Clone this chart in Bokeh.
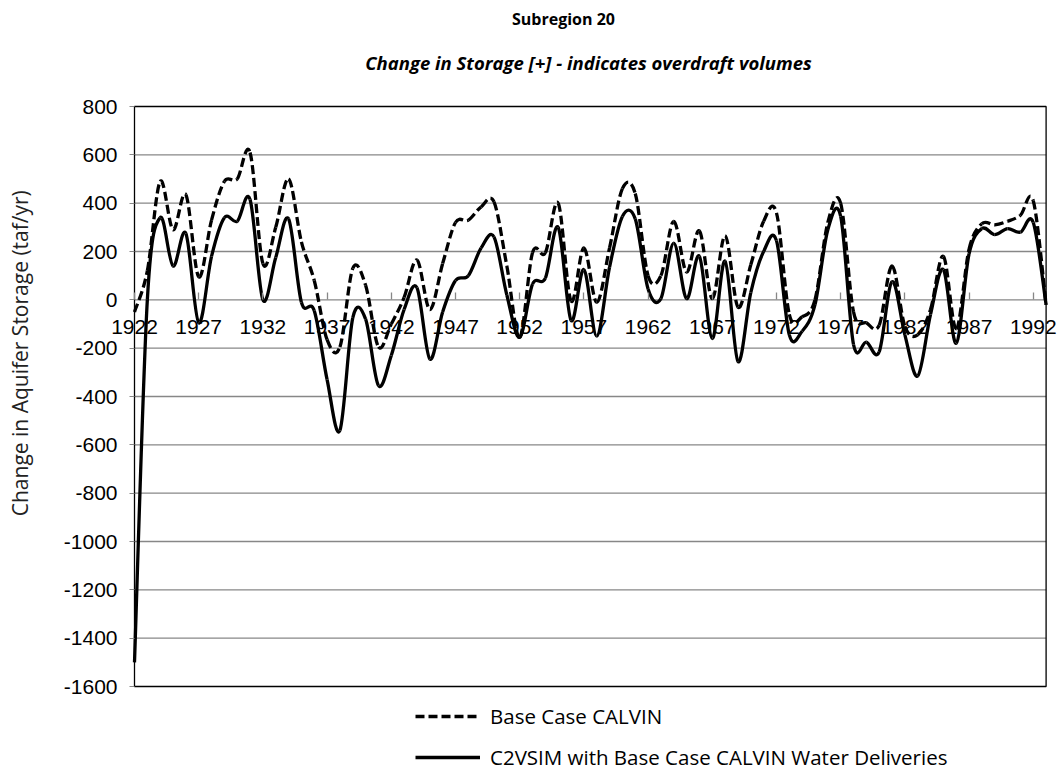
import numpy as np
from bokeh.plotting import figure
from bokeh.models import Range1d, FixedTicker, Legend, LegendItem, Label, ColumnDataSource
from bokeh.embed import file_html
from bokeh.resources import INLINE

years = list(range(1922, 1994))

base_calvin = [-50, 120, 490, 290, 435, 95, 330, 490, 500, 610,
               150, 300, 500, 240, 80, -165, -195, 130, 60, -195,
               -100, 10, 165, -40, 150, 320, 330, 385, 405, 140,
               -155, 195, 195, 400, -5, 215, -10, 215, 460, 440,
               100, 100, 325, 115, 285, 5, 265, -30, 145, 325,
               360, -60, -70, 0, 320, 400, -50, -95, -105, 140,
               -110, -145, -40, 180, -120, 210, 315, 310, 325, 350,
               410, -20]

c2vsim = [-1500, 0, 340, 140, 275, -95, 180, 340, 325, 415,
          0, 175, 335, -10, -45, -330, -540, -75, -80, -355,
          -230, -40, 50, -245, -50, 80, 100, 215, 260, 20,
          -155, 65, 90, 300, -85, 125, -150, 135, 345, 335,
          45, 5, 235, 5, 180, -160, 160, -255, 30, 200,
          245, -145, -130, -20, 290, 345, -185, -175, -215, 75,
          -145, -315, -60, 125, -180, 190, 295, 270, 295, 280,
          320, -20]

tick_years = list(range(1922, 1993, 5))
tick_labels = [str(y) for y in tick_years]
y_ticks = list(range(-1600, 801, 200))
y_tick_labels = [str(v) for v in y_ticks]

# ---- layout: the drawing frame covers the whole canvas (pixels from its top-left) ----
FIG_W, FIG_H = 1058, 772
BOX_LEFT, BOX_RIGHT = 134.0, 1045.6     # visible plot box
BOX_TOP, BOX_BOTTOM = 106.0, 686.0

px_x = (BOX_RIGHT - BOX_LEFT) / (years[-1] - years[0])
px_y = (BOX_BOTTOM - BOX_TOP) / (y_ticks[-1] - y_ticks[0])
x_start = years[0] - BOX_LEFT / px_x
x_end = x_start + FIG_W / px_x
y_end = y_ticks[-1] + BOX_TOP / px_y
y_start = y_end - FIG_H / px_y


def to_x(px):
    return x_start + px / px_x


def to_y(py):
    return y_end - py / px_y


def smooth_source(xs, ys):
    """Bezier control points (Catmull-Rom style) for a smoothed line through the points."""
    x = np.asarray(xs, dtype=float)
    y = np.asarray(ys, dtype=float)
    n = len(x)
    i = np.arange(n - 1)
    im1 = np.maximum(i - 1, 0)
    ip2 = np.minimum(i + 2, n - 1)
    return ColumnDataSource(dict(
        x0=x[i], y0=y[i], x1=x[i + 1], y1=y[i + 1],
        cx0=x[i] + (x[i + 1] - x[im1]) / 6.0,
        cy0=y[i] + (y[i + 1] - y[im1]) / 6.0,
        cx1=x[i + 1] - (x[ip2] - x[i]) / 6.0,
        cy1=y[i + 1] - (y[ip2] - y[i]) / 6.0,
    ))


p = figure(width=FIG_W, height=FIG_H,
           x_range=Range1d(x_start, x_end), y_range=Range1d(y_start, y_end),
           output_backend="svg", toolbar_location=None,
           min_border_left=0, min_border_top=0,
           min_border_bottom=0, min_border_right=0)
p.title = None
p.background_fill_color = "white"
p.border_fill_color = "white"
p.outline_line_color = None
p.grid.visible = False

# horizontal gridlines inside the plot box
p.segment(x0=years[0], x1=years[-1], y0=y_ticks[1:-1], y1=y_ticks[1:-1],
          line_color="#878787", line_width=1.3)

# y axis at the left edge of the plot box
p.yaxis.fixed_location = years[0]
p.yaxis.ticker = FixedTicker(ticks=y_ticks)
p.yaxis.major_label_overrides = {v: l for v, l in zip(y_ticks, y_tick_labels)}
p.yaxis.axis_line_color = None
p.yaxis.major_tick_line_color = "#878787"
p.yaxis.major_tick_out = 5
p.yaxis.major_tick_in = 0
p.yaxis.minor_tick_line_color = None
p.yaxis.major_label_standoff = 12
p.yaxis.major_label_text_font = "Liberation Sans"
p.yaxis.major_label_text_font_size = "21px"
p.yaxis.major_label_text_color = "black"

# x axis crossing at 0
p.xaxis.fixed_location = 0
p.xaxis.ticker = FixedTicker(ticks=tick_years)
p.xaxis.major_label_overrides = {y: l for y, l in zip(tick_years, tick_labels)}
p.xaxis.axis_line_color = None
p.xaxis.major_tick_line_color = "#878787"
p.xaxis.major_tick_line_width = 1.3
p.xaxis.major_tick_in = 7
p.xaxis.major_tick_out = 0
p.xaxis.minor_tick_line_color = None
p.xaxis.major_label_standoff = 20
p.xaxis.major_label_text_font = "Liberation Sans"
p.xaxis.major_label_text_font_size = "21px"
p.xaxis.major_label_text_color = "black"

# plot box border
p.quad(left=years[0], right=years[-1], bottom=y_ticks[0], top=y_ticks[-1],
       fill_color=None, line_color="black", line_width=1.3)

# series
src_base = smooth_source(years, base_calvin)
src_c2v = smooth_source(years, c2vsim)
r_c2v = p.bezier(x0="x0", y0="y0", x1="x1", y1="y1", cx0="cx0", cy0="cy0",
                 cx1="cx1", cy1="cy1", source=src_c2v,
                 line_color="black", line_width=3.3, line_join="round")
r_base = p.bezier(x0="x0", y0="y0", x1="x1", y1="y1", cx0="cx0", cy0="cy0",
                  cx1="cx1", cy1="cy1", source=src_base,
                  line_color="black", line_width=3.3, line_dash="9 4")

LEG_LEFT, LEG_TOP, LEG_H = 415, 702, 69
legend = Legend(items=[
    LegendItem(label="Base Case CALVIN", renderers=[r_base]),
    LegendItem(label="C2VSIM with Base Case CALVIN Water Deliveries", renderers=[r_c2v]),
], location=(LEG_LEFT, FIG_H - LEG_TOP - LEG_H), orientation="vertical",
    glyph_width=65, glyph_height=28, label_height=28, spacing=13,
    padding=0, margin=0, label_standoff=10,
    label_text_font="Open Sans", label_text_font_size="20.5px",
    label_text_color="black", label_text_baseline="middle",
    border_line_color=None, background_fill_alpha=0)
p.add_layout(legend)

# titles and axis title as text annotations
p.add_layout(Label(x=to_x(563), y=to_y(18), text="Subregion 20",
                   text_align="center", text_baseline="middle",
                   text_font="Open Sans", text_font_size="16px", text_font_style="bold",
                   text_color="black"))
p.add_layout(Label(x=to_x(588), y=to_y(62), text="Change in Storage [+] - indicates overdraft volumes",
                   text_align="center", text_baseline="middle",
                   text_font="Open Sans", text_font_size="18.5px", text_font_style="bold italic",
                   text_color="black"))
p.add_layout(Label(x=to_x(19), y=to_y(350), text="Change in Aquifer  Storage (taf/yr)",
                   angle=np.pi / 2, text_align="center", text_baseline="middle",
                   text_font="Open Sans", text_font_size="21px", text_font_style="normal",
                   text_color="#222222"))

open("out.html", "w").write(file_html(p, INLINE))
